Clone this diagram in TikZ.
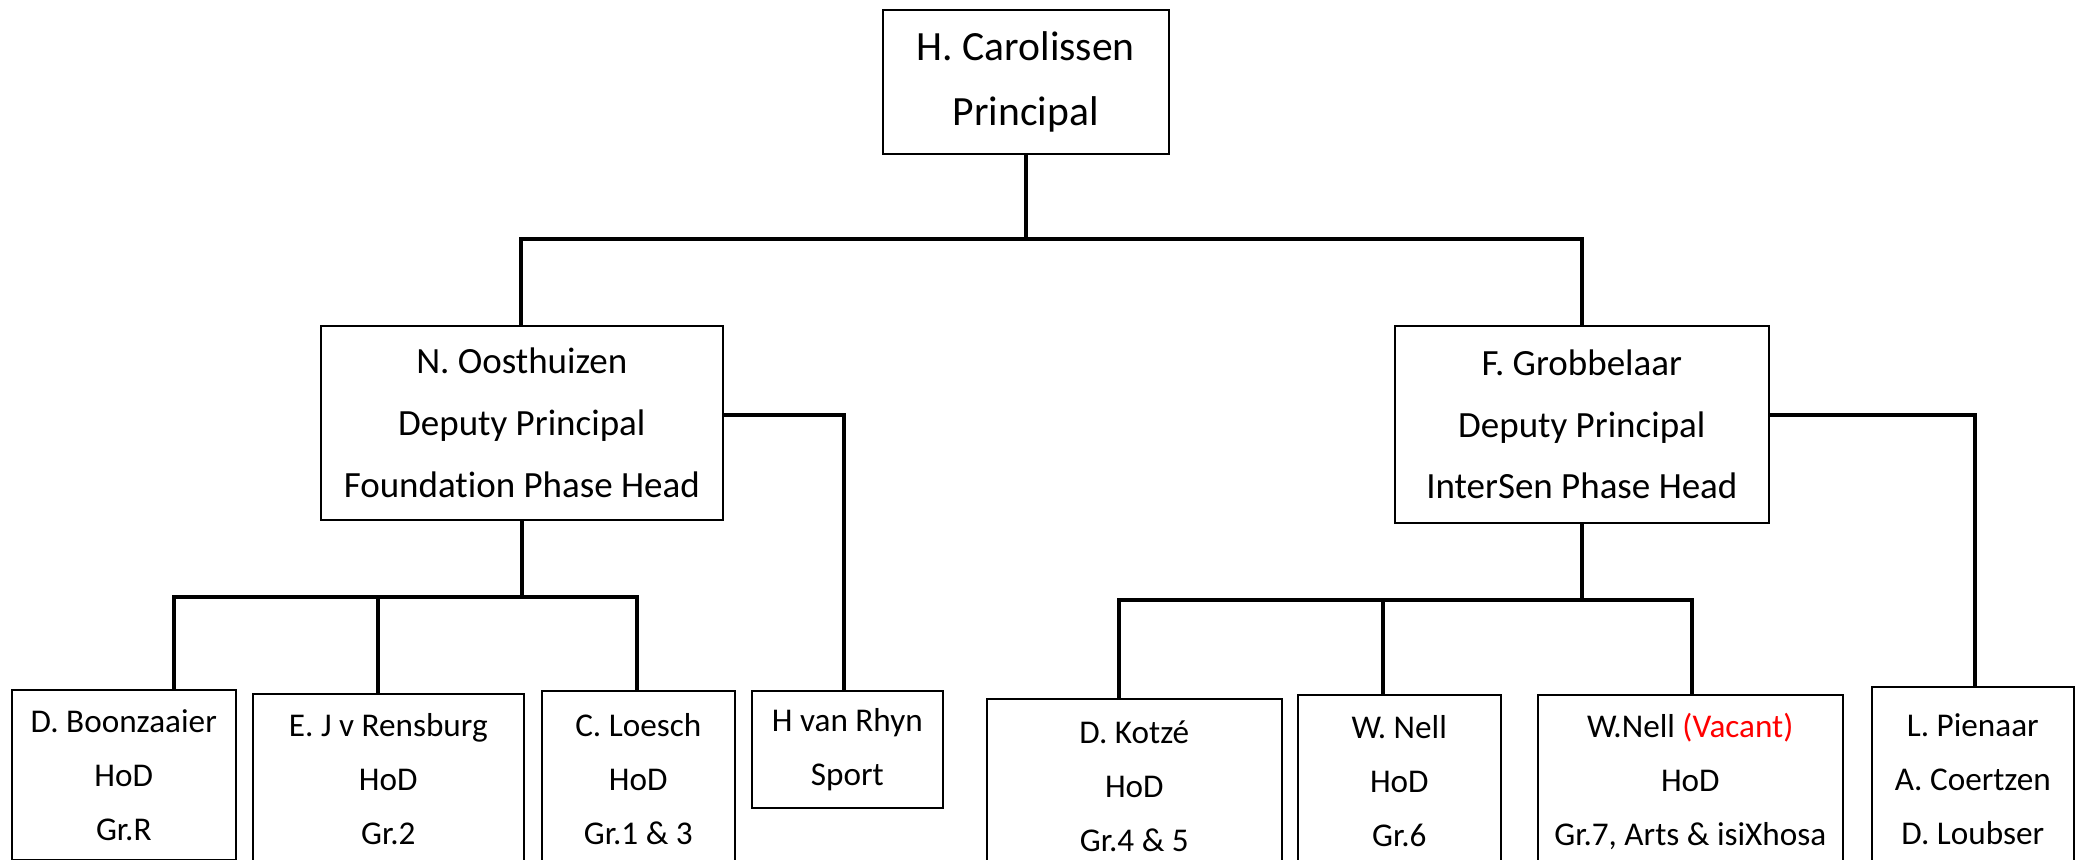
\documentclass[tikz,border=0pt]{standalone}
\usepackage{fontspec}
\setmainfont{Carlito}[Ligatures={NoCommon}]
\begin{document}
\begin{tikzpicture}[x=0.5pt,y=-0.5pt,
  box/.style={draw, line width=0.8pt, inner sep=0pt, align=center, anchor=north west},
  ptext/.style={font=\fontsize{20.8}{32.5}\selectfont},
  dtext/.style={font=\fontsize{18.5}{30.9}\selectfont},
  btext/.style={font=\fontsize{16.6}{27}\selectfont},
  conn/.style={line width=1.7pt, line cap=rect}]
\useasboundingbox (0,0) rectangle (2081,860);
\clip (0,0) rectangle (2081,860);
% boxes
\node[box,ptext,minimum width=143pt,minimum height=72pt] (P) at (882,9) {H. Carolissen\\Principal};
\node[box,dtext,minimum width=201pt,minimum height=97pt] (LD) at (320,325) {N. Oosthuizen\\Deputy Principal\\Foundation Phase Head};
\node[box,dtext,minimum width=187pt,minimum height=98.5pt] (RD) at (1394,325) {F. Grobbelaar\\Deputy Principal\\InterSen Phase Head};
\node[box,btext,minimum width=112pt,minimum height=85pt] (Boon) at (11,689) {D. Boonzaaier\\HoD\\Gr.R};
\node[box,btext,minimum width=135.5pt,minimum height=85pt] (Rens) at (252,693) {E. J v Rensburg\\HoD\\Gr.2};
\node[box,btext,minimum width=96.5pt,minimum height=88pt] (Loes) at (541,690) {C. Loesch\\HoD\\Gr.1 \& 3};
\node[box,btext,minimum width=95.5pt,minimum height=58.5pt] (Sport) at (751,690) {H van Rhyn\\Sport};
\node[box,btext,minimum width=147.5pt,minimum height=87pt] (Kotze) at (986,698) {D. Kotzé\\HoD\\Gr.4 \& 5};
\node[box,btext,minimum width=101.5pt,minimum height=86pt] (Nell) at (1297,694) {W. Nell\\HoD\\Gr.6};
\node[box,btext,minimum width=152.5pt,minimum height=87pt] (Vac) at (1537,694) {W.Nell \textcolor{red}{(Vacant)}\\HoD\\Gr.7, Arts \& isiXhosa};
\node[box,btext,minimum width=101pt,minimum height=92pt] (Pien) at (1871,686) {L. Pienaar\\A. Coertzen\\D. Loubser};
% bus coordinates
\coordinate (b1l) at (521,239);
\coordinate (b1r) at (1582,239);
\coordinate (s1) at (844,415);
\coordinate (s2) at (1975,415);
\coordinate (b2a) at (174,597);
\coordinate (b2b) at (378,597);
\coordinate (b2c) at (637,597);
\coordinate (b3a) at (1119,600);
\coordinate (b3b) at (1383,600);
\coordinate (b3c) at (1692,600);
% connectors
\draw[conn] (P.south) -- (P.south |- b1l);
\draw[conn] (b1l) -- (b1r);
\draw[conn] (b1l) -- (LD.north -| b1l);
\draw[conn] (b1r) -- (RD.north -| b1r);
\draw[conn] (LD.east |- s1) -- (s1) -- (Sport.north -| s1);
\draw[conn] (RD.east |- s2) -- (s2) -- (Pien.north -| s2);
\draw[conn] (LD.south) -- (LD.south |- b2a);
\draw[conn] (b2a) -- (b2c);
\draw[conn] (b2a) -- (Boon.north -| b2a);
\draw[conn] (b2b) -- (Rens.north -| b2b);
\draw[conn] (b2c) -- (Loes.north -| b2c);
\draw[conn] (RD.south) -- (RD.south |- b3a);
\draw[conn] (b3a) -- (b3c);
\draw[conn] (b3a) -- (Kotze.north -| b3a);
\draw[conn] (b3b) -- (Nell.north -| b3b);
\draw[conn] (b3c) -- (Vac.north -| b3c);
\end{tikzpicture}
\end{document}
